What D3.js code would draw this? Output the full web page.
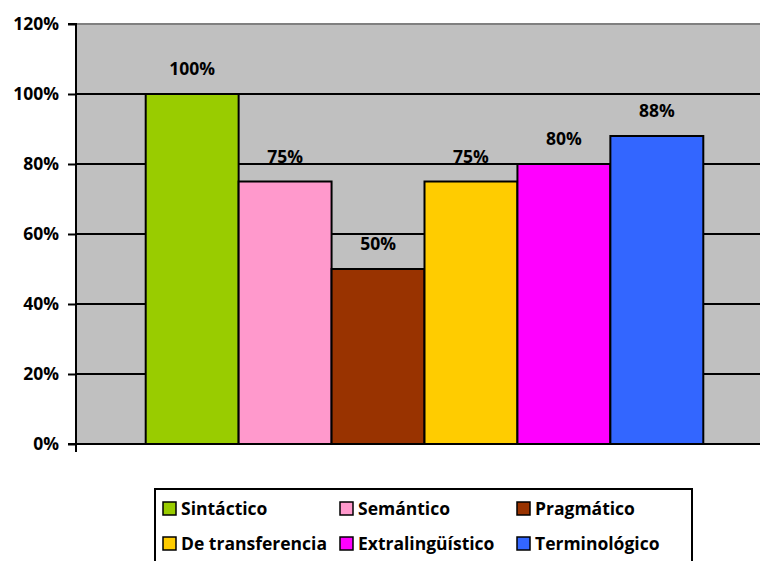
<!DOCTYPE html>
<html><head><meta charset="utf-8">
<script src="https://cdn.jsdelivr.net/npm/d3@7"></script>
<style>body{margin:0;background:#fff}svg{display:block}text{font-family:"Open Sans",sans-serif;font-weight:700}</style>
</head><body>
<script>
const series = ["Sintáctico","Semántico","Pragmático","De transferencia","Extralingüístico","Terminológico"];
const values = [1.00,0.75,0.50,0.75,0.80,0.88];
const colors = ["#99CC00","#FF99CC","#993300","#FFCC00","#FF00FF","#3366FF"];
const ticks = [0,0.2,0.4,0.6,0.8,1.0,1.2];

const W=760,H=561,FS="17.5px";
const svg=d3.select("body").append("svg").attr("width",W).attr("height",H);
const m={left:76,top:24,right:773,bottom:444};
const y=d3.scaleLinear().domain([0,1.2]).range([m.bottom,m.top]);
const gw=m.right-m.left;
const barW=gw/7.5;
const x=d3.scaleBand().domain(series).range([m.left+barW*0.75,m.right-barW*0.75]).padding(0);

svg.append("rect").attr("x",m.left).attr("y",m.top).attr("width",m.right-m.left).attr("height",m.bottom-m.top).attr("fill","#C0C0C0");
svg.append("line").attr("x1",m.left).attr("x2",m.right).attr("y1",m.top).attr("y2",m.top).attr("stroke","#808080").attr("stroke-width",2);

svg.append("g").selectAll("line").data(ticks.filter(t=>t>0&&t<1.2)).join("line")
  .attr("x1",m.left).attr("x2",m.right).attr("y1",d=>y(d)).attr("y2",d=>y(d)).attr("stroke","#000").attr("stroke-width",2);

const ax=svg.append("g").attr("transform",`translate(${m.left},0)`)
  .call(d3.axisLeft(y).tickValues(ticks).tickFormat(d3.format(".0%")).tickSize(8).tickPadding(9));
ax.select(".domain").attr("stroke","#000").attr("stroke-width",2).attr("d",`M-8,${y(0)}H0V${m.top}H-8`);
ax.selectAll(".tick line").attr("stroke","#000").attr("stroke-width",2);
ax.selectAll(".tick text").attr("fill","#000").style("font-size",FS).style("font-weight","700").style("font-family","'Open Sans',sans-serif");
svg.append("line").attr("x1",m.left).attr("x2",m.right).attr("y1",y(0)).attr("y2",y(0)).attr("stroke","#000").attr("stroke-width",2);
svg.append("line").attr("x1",m.left).attr("x2",m.left).attr("y1",y(0)).attr("y2",y(0)+8).attr("stroke","#000").attr("stroke-width",2);

const data=series.map((s,i)=>({s,v:values[i],c:colors[i]}));
svg.append("g").selectAll("rect").data(data).join("rect")
  .attr("x",d=>x(d.s)).attr("width",x.bandwidth()).attr("y",d=>y(d.v)).attr("height",d=>y(0)-y(d.v))
  .attr("fill",d=>d.c).attr("stroke","#000").attr("stroke-width",2);
svg.append("g").selectAll("text").data(data).join("text")
  .attr("x",d=>x(d.s)+x.bandwidth()/2).attr("y",d=>y(d.v)-19).attr("text-anchor","middle")
  .style("font-size",FS).text(d=>d3.format(".0%")(d.v));

const lg=svg.append("g");
lg.append("rect").attr("x",155).attr("y",489).attr("width",537).attr("height",80).attr("fill","#fff").attr("stroke","#000").attr("stroke-width",2);
const colX=[163,340,517], rowY=[509,544];
const li=lg.selectAll("g").data(data).join("g").attr("transform",(d,i)=>`translate(${colX[i%3]},${rowY[Math.floor(i/3)]})`);
li.append("rect").attr("x",0).attr("y",-7).attr("width",13).attr("height",13).attr("fill",d=>d.c).attr("stroke","#000").attr("stroke-width",1.5);
li.append("text").attr("x",18).attr("y",6).style("font-size",FS).text(d=>d.s);
</script>
</body></html>
